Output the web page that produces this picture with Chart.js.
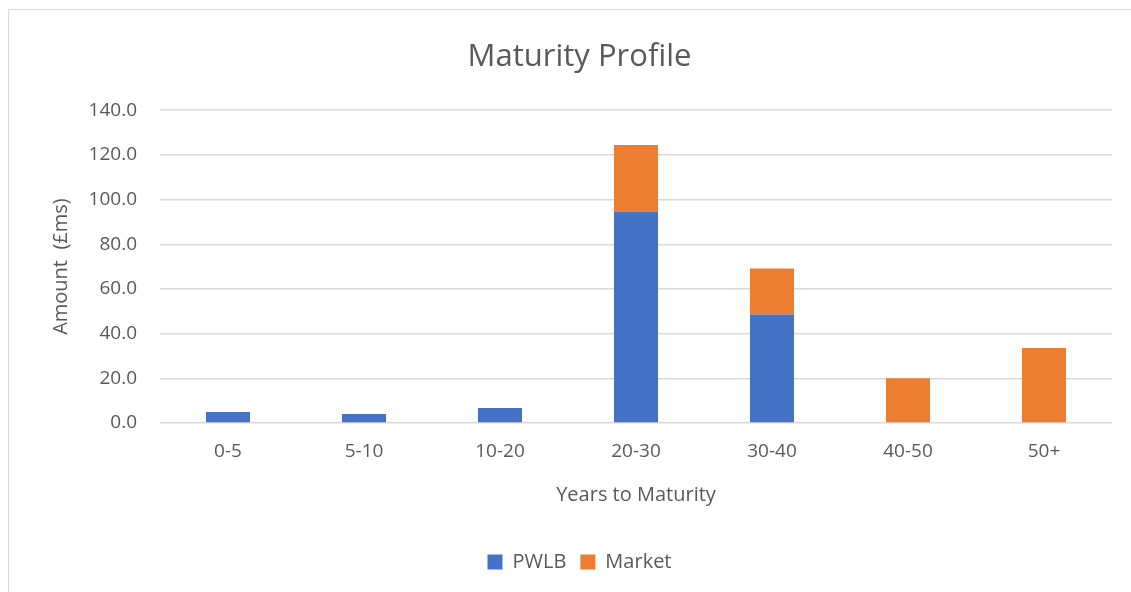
<!DOCTYPE html>
<html>
<head>
<meta charset="utf-8">
<script src="https://cdn.jsdelivr.net/npm/chart.js@4"></script>
<style>
  html, body { margin: 0; padding: 0; background: #fff; overflow: hidden; }
  #wrap { position: absolute; left: 0; top: 0; width: 1131px; height: 592px; }
  #frame { position: absolute; left: 8px; top: 9px; width: 2000px; height: 2000px;
           border-left: 1px solid #d9d9d9; border-top: 1px solid #d9d9d9; pointer-events: none; }
</style>
</head>
<body>
<div id="wrap"><canvas id="maturityChart" width="1131" height="592"></canvas></div>
<div id="frame"></div>
<script>
// categories and series (£ms)
const categories = ['0-5', '5-10', '10-20', '20-30', '30-40', '40-50', '50+'];
const pwlbValues = [4.9, 4.0, 6.7, 94.6, 48.6, 0, 0];
const marketValues = [0, 0, 0, 29.8, 20.5, 20.0, 33.6];
const yTicks = [0, 20, 40, 60, 80, 100, 120, 140];

const textColor = '#595959';
const fontFamily = "'Open Sans', sans-serif";

function drawChart() {
    const ctx = document.getElementById('maturityChart').getContext('2d');

    const data = {
        labels: categories,
        datasets: [
            { label: 'PWLB', data: pwlbValues, backgroundColor: '#4472C4' },
            { label: 'Market', data: marketValues, backgroundColor: '#ED7D31' }
        ]
    };

    new Chart(ctx, {
        type: 'bar',
        data: data,
        options: {
            responsive: false,
            animation: false,
            layout: { padding: { left: 47, right: 19, top: 0, bottom: 10 } },
            datasets: { bar: { barPercentage: 0.324, categoryPercentage: 1.0 } },
            plugins: {
                title: {
                    display: true,
                    text: 'Maturity Profile',
                    color: textColor,
                    font: { family: fontFamily, size: 31, weight: 'normal' },
                    padding: { top: 39, bottom: 34 }
                },
                legend: {
                    position: 'bottom',
                    labels: {
                        color: textColor,
                        font: { family: fontFamily, size: 20 },
                        boxWidth: 15,
                        boxHeight: 15,
                        padding: 14
                    }
                },
                tooltip: { enabled: false }
            },
            scales: {
                x: {
                    stacked: true,
                    grid: { display: false },
                    border: { display: false },
                    ticks: { color: textColor, font: { family: fontFamily, size: 19 }, padding: 9 },
                    title: {
                        display: true,
                        text: 'Years to Maturity',
                        color: textColor,
                        font: { family: fontFamily, size: 20 },
                        padding: { top: 8, bottom: 31 }
                    },
                    afterFit: function(scale) { scale.height = 115; }
                },
                y: {
                    stacked: true,
                    min: 0,
                    max: 140,
                    afterBuildTicks: function(scale) {
                        scale.ticks = yTicks.map(v => ({ value: v }));
                    },
                    grid: { color: '#d9d9d9', lineWidth: 1.5, drawTicks: false },
                    border: { display: false },
                    ticks: {
                        color: textColor,
                        font: { family: fontFamily, size: 19 },
                        padding: 23,
                        callback: v => v.toFixed(1)
                    },
                    title: {
                        display: true,
                        text: 'Amount  (£ms)',
                        color: textColor,
                        font: { family: fontFamily, size: 20 },
                        padding: { top: 2, bottom: 0 }
                    },
                    afterFit: function(scale) { scale.width = 113; }
                }
            }
        }
    });
}

window.addEventListener('load', drawChart);
</script>
</body>
</html>
